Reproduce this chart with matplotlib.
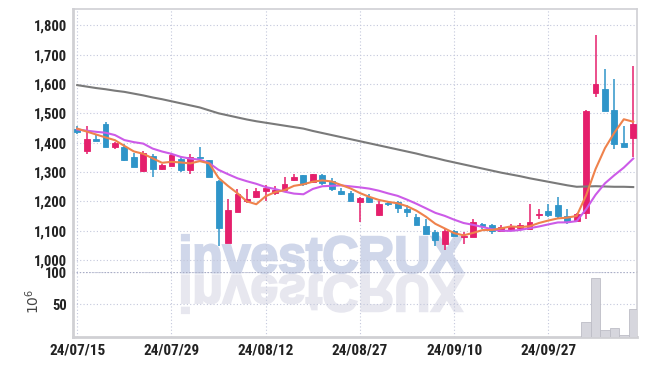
import numpy as np
import matplotlib
matplotlib.use("Agg")
import matplotlib.pyplot as plt
from matplotlib import font_manager
from matplotlib.font_manager import FontProperties
from matplotlib.textpath import TextPath
from matplotlib.patches import PathPatch
from matplotlib.transforms import Affine2D, IdentityTransform
from matplotlib.ticker import FuncFormatter

# daily OHLC, 60 sessions from 24/07/15
opens = [1445, 1372, 1412, 1463, 1386, 1386, 1352, 1303, 1355, 1310,
         1322, 1344, 1307, 1352, 1341, 1269, 1060, 1163, 1201, 1216,
         1235, 1230, 1239, 1274, 1290, 1265, 1290, 1269, 1235, 1228,
         1197, 1216, 1153, 1196, 1197, 1174, 1147, 1116, 1095, 1054,
         1100, 1080, 1080, 1125, 1120, 1101, 1107, 1111, 1108, 1154,
         1167, 1188, 1151, 1134, 1160, 1570, 1582, 1511, 1399, 1416]
closes = [1438, 1412, 1407, 1386, 1400, 1341, 1318, 1366, 1310, 1323,
          1358, 1307, 1350, 1349, 1284, 1110, 1171, 1227, 1210, 1235,
          1247, 1240, 1261, 1283, 1261, 1292, 1262, 1242, 1224, 1202,
          1213, 1197, 1191, 1190, 1178, 1163, 1121, 1089, 1069, 1099,
          1083, 1084, 1130, 1117, 1101, 1112, 1115, 1120, 1130, 1157,
          1154, 1151, 1133, 1159, 1507, 1601, 1507, 1397, 1387, 1465]
highs = [1458, 1456, 1431, 1471, 1401, 1394, 1366, 1372, 1363, 1326,
         1366, 1352, 1360, 1384, 1342, 1272, 1207, 1241, 1244, 1247,
         1256, 1252, 1284, 1295, 1291, 1294, 1292, 1281, 1245, 1236,
         1215, 1224, 1202, 1202, 1200, 1188, 1156, 1139, 1103, 1105,
         1104, 1097, 1142, 1126, 1123, 1119, 1123, 1128, 1190, 1173,
         1190, 1214, 1176, 1160, 1510, 1766, 1650, 1618, 1457, 1660]
lows = [1430, 1363, 1406, 1386, 1377, 1337, 1318, 1299, 1282, 1308,
        1320, 1300, 1295, 1345, 1284, 1049, 1058, 1163, 1196, 1213,
        1201, 1222, 1239, 1269, 1252, 1264, 1255, 1236, 1222, 1202,
        1129, 1196, 1152, 1185, 1162, 1148, 1121, 1089, 1048, 1035,
        1082, 1054, 1080, 1108, 1088, 1099, 1100, 1103, 1107, 1140,
        1146, 1142, 1123, 1133, 1140, 1556, 1507, 1380, 1386, 1350]

# moving averages as drawn (5, 10 and long-term)
ma5 = [1448, 1438, 1428, 1418, 1408.6, 1389.2, 1370.4, 1362.2, 1347, 1331.6,
       1335, 1332.8, 1329.6, 1337.4, 1329.6, 1280, 1252.8, 1228.2, 1200.4, 1190.6,
       1218, 1231.8, 1238.6, 1253.2, 1258.4, 1267.4, 1271.8, 1268, 1256.2, 1244.4,
       1228.6, 1215.6, 1205.4, 1198.6, 1193.8, 1183.8, 1168.6, 1148.2, 1124, 1108.2,
       1092.2, 1084.8, 1093, 1102.6, 1103, 1108.8, 1115, 1113, 1115.6, 1126.8,
       1135.2, 1142.4, 1145, 1150.8, 1220.8, 1310.2, 1381.4, 1434.2, 1479.8, 1471.4]
ma10 = [1445, 1441, 1437, 1434, 1426, 1409, 1402, 1397, 1380, 1370,
        1362.1, 1351.6, 1345.9, 1342.2, 1330.6, 1307.5, 1292.8, 1278.9, 1268.9, 1260.1,
        1249, 1242.3, 1233.4, 1226.8, 1224.5, 1242.7, 1251.8, 1253.3, 1254.7, 1251.4,
        1248, 1243.7, 1236.7, 1227.4, 1219.1, 1206.2, 1192.1, 1176.8, 1161.3, 1151,
        1138, 1126.7, 1120.6, 1113.3, 1105.6, 1100.5, 1099.9, 1103, 1109.1, 1114.9,
        1122, 1128.7, 1129, 1133.1, 1173.7, 1222.6, 1261.8, 1289.5, 1315.2, 1346]
ma_long = [1596, 1591, 1586, 1582, 1577, 1573, 1567, 1561, 1554, 1548,
           1541, 1534, 1527, 1520, 1510, 1500, 1493, 1486, 1479, 1473,
           1468, 1463, 1458, 1453, 1448, 1440, 1433, 1426, 1419, 1412,
           1405, 1398, 1391, 1384, 1377, 1370, 1363, 1355, 1348, 1340,
           1333, 1326, 1319, 1312, 1305, 1298, 1292, 1286, 1279, 1273,
           1267, 1261, 1255, 1250, 1251, 1252, 1251, 1250, 1250, 1249]

# volume in millions (only the last sessions are visible)
volume = [0] * 54 + [22, 90, 9.6, 12.7, 2, 42]

tick_idx = [0, 10, 20, 30, 40, 50]
tick_labels = ["24/07/15", "24/07/29", "24/08/12", "24/08/27", "24/09/10", "24/09/27"]

UP = "#e51f6c"
DOWN = "#2f95c9"
GRID = "#c4c8dc"

installed = {f.name for f in font_manager.fontManager.ttflist}
label_font = "DejaVu Sans"
for name in ["Liberation Sans Narrow", "Roboto Condensed", "Open Sans Condensed"]:
    if name in installed:
        label_font = name
        break

W, H = 647, 366
fig = plt.figure(figsize=(W / 100, H / 100), dpi=100)
left, right = 73, 637
ax = fig.add_axes([left / W, 1 - 272 / H, (right - left) / W, (272 - 9) / H])
axv = fig.add_axes([left / W, 1 - 336.5 / H, (right - left) / W, (336.5 - 272) / H], sharex=ax)
for a in (ax, axv):
    a.set_facecolor("none")

# watermark with its reflection, behind everything
wm = TextPath((0, 0), "investCRUX", size=100,
              prop=FontProperties(family="Liberation Sans", weight="bold"))
ext = wm.get_extents()
sx = (463 - 182) / ext.width
sy = (272 - 234) / ext.height
base = Affine2D().translate(-ext.x0, -ext.y0)
top_t = base + Affine2D().scale(sx, sy).translate(182, H - 273)
bot_t = base + Affine2D().scale(sx, -sy).translate(182, H - 275)
fig.add_artist(PathPatch(top_t.transform_path(wm), facecolor="#d0d7ea", edgecolor="#d0d7ea",
                         linewidth=1.6, transform=IdentityTransform(), zorder=-2))
fig.add_artist(PathPatch(bot_t.transform_path(wm), facecolor="#e7e7ef", edgecolor="#e7e7ef",
                         linewidth=1.6, transform=IdentityTransform(), zorder=-2))

o = np.array(opens, float)
c = np.array(closes, float)
hi = np.array(highs, float)
lo = np.array(lows, float)
x = np.arange(len(o))
colors = [UP if cc >= oo else DOWN for oo, cc in zip(o, c)]

ax.vlines(x, lo, hi, colors=colors, linewidth=1.1, zorder=3)
body_h = np.maximum(np.abs(c - o), 1.5)
ax.bar(x, body_h, bottom=np.minimum(o, c), width=0.62, color=colors,
       edgecolor=colors, linewidth=0.6, zorder=4)

ax.plot(x, ma_long, color="#7a7a7a", linewidth=1.5, zorder=5)
ax.plot(x, ma10, color="#cc5be8", linewidth=1.5, zorder=5)
ax.plot(x, ma5, color="#ef824c", linewidth=1.5, zorder=6)

ax.set_xlim(-0.45, 59.4)
ax.set_ylim(960, 1855)
ax.set_yticks(range(1000, 1900, 100))
ax.yaxis.set_major_formatter(FuncFormatter(lambda v, p: f"{int(v):,}"))
ax.set_xticks(tick_idx)
ax.tick_params(axis="x", labelbottom=False, length=0)
ax.tick_params(axis="y", length=0, pad=4.5, labelsize=10.5, labelcolor="#222222")
ax.grid(True, color=GRID, linestyle=(0, (1, 2)), linewidth=0.8)
ax.set_axisbelow(True)

axv.bar(x, volume, width=1.0, color="#d6d6dd", edgecolor="#bdbdc6", linewidth=0.6, zorder=3)
axv.set_ylim(0, 100)
axv.set_yticks([50, 100])
axv.set_xticks(tick_idx)
axv.set_xticklabels(tick_labels)
axv.tick_params(axis="y", length=0, pad=4.5, labelsize=10.5, labelcolor="#222222")
axv.tick_params(axis="x", length=0, pad=5, labelsize=11, labelcolor="#222222")
axv.grid(True, color=GRID, linestyle=(0, (1, 2)), linewidth=0.8)
axv.axhline(100, color="#a8acc4", linestyle=(0, (1, 1.5)), linewidth=0.9, zorder=2)
axv.set_axisbelow(True)

for lab in ax.get_yticklabels() + axv.get_yticklabels() + axv.get_xticklabels():
    lab.set_fontfamily(label_font)
    lab.set_fontweight("bold")

for a in (ax, axv):
    for s in a.spines.values():
        s.set_color("#d0d0d4")
        s.set_linewidth(1.2)
ax.spines["bottom"].set_visible(False)
axv.spines["top"].set_visible(False)
ax.spines["left"].set_linewidth(2)
axv.spines["left"].set_linewidth(2)
axv.spines["bottom"].set_linewidth(2)

fig.text(33 / W, 1 - 301 / H, r"$10^6$", rotation=90, ha="center", va="center",
         fontsize=10, color="#444444")

fig.savefig("out.png", dpi=100)
